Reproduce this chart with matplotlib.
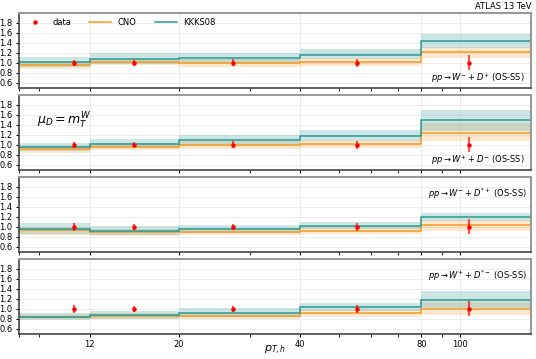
import numpy as np
import matplotlib
matplotlib.use("Agg")
import matplotlib.pyplot as plt
from matplotlib.lines import Line2D
from matplotlib.ticker import FixedLocator, FixedFormatter, LogLocator, NullFormatter

# bin edges in pT,h and mean-pT of data points
edges = [8, 12, 20, 40, 80, 150]
data_x = [11.0, 15.5, 27.3, 55.5, 105.0]

channels = [r"$pp \rightarrow W^{-} + D^{+}$ (OS-SS)",
            r"$pp \rightarrow W^{+} + D^{-}$ (OS-SS)",
            r"$pp \rightarrow W^{-} + D^{*+}$ (OS-SS)",
            r"$pp \rightarrow W^{+} + D^{*-}$ (OS-SS)"]

# data (normalised to 1) and errors
data_y = [1.0, 1.0, 1.0, 1.0, 1.0]
data_err = [[0.06, 0.06, 0.07, 0.08, 0.15],
            [0.06, 0.05, 0.07, 0.08, 0.15],
            [0.08, 0.06, 0.06, 0.08, 0.15],
            [0.08, 0.06, 0.06, 0.08, 0.15]]

# CNO central / up / down
cno = [[0.967, 1.013, 1.00, 1.02, 1.21],
       [0.913, 0.96, 1.00, 1.02, 1.247],
       [0.933, 0.893, 0.90, 0.92, 1.033],
       [0.833, 0.853, 0.867, 0.927, 1.007]]
cno_up = [[1.03, 1.08, 1.07, 1.09, 1.32],
          [0.97, 1.04, 1.07, 1.09, 1.43],
          [1.00, 0.96, 0.97, 1.00, 1.13],
          [0.89, 0.91, 0.92, 1.00, 1.13]]
cno_dn = [[0.87, 0.95, 0.92, 0.93, 1.09],
          [0.84, 0.89, 0.92, 0.93, 1.08],
          [0.83, 0.81, 0.83, 0.85, 0.92],
          [0.79, 0.80, 0.80, 0.83, 0.88]]

# KKKS08 central / up / down
kkks = [[1.02, 1.087, 1.10, 1.16, 1.44],
        [0.96, 1.02, 1.093, 1.18, 1.49],
        [0.96, 0.913, 0.96, 1.02, 1.20],
        [0.847, 0.873, 0.92, 1.033, 1.18]]
kkks_up = [[1.12, 1.19, 1.20, 1.27, 1.57],
           [1.04, 1.12, 1.20, 1.29, 1.70],
           [1.08, 1.027, 1.047, 1.107, 1.287],
           [0.92, 0.96, 1.013, 1.127, 1.353]]
kkks_dn = [[0.92, 0.98, 1.00, 1.07, 1.30],
           [0.88, 0.94, 1.00, 1.08, 1.28],
           [0.86, 0.83, 0.88, 0.95, 1.12],
           [0.78, 0.80, 0.84, 0.95, 1.02]]

orange = "#f59a23"
teal = "#2a9a94"

fig, axes = plt.subplots(4, 1, figsize=(5.36, 3.59), dpi=100, sharex=True)
fig.subplots_adjust(left=0.035, right=0.991, top=0.964, bottom=0.07, hspace=0.093)

for i, ax in enumerate(axes):
    ax.set_xscale("log")
    ax.stairs(cno_up[i], edges, baseline=cno_dn[i], fill=True, color=orange, alpha=0.22, lw=0)
    ax.stairs(kkks_up[i], edges, baseline=kkks_dn[i], fill=True, color="#4aa8a8", alpha=0.28, lw=0)
    ax.stairs(cno[i], edges, baseline=None, color=orange, lw=1.1)
    ax.stairs(kkks[i], edges, baseline=None, color=teal, lw=1.1)
    ax.errorbar(data_x, data_y, yerr=data_err[i], fmt="o", color="red", ms=2.2,
                elinewidth=1.6, ecolor=(1, 0, 0, 0.65), capsize=0, zorder=5)

    ax.set_xlim(8, 150)
    ax.set_ylim(0.5, 2.0)
    ax.set_yticks([0.6, 0.8, 1.0, 1.2, 1.4, 1.6, 1.8])
    ax.set_yticklabels(["0.6", "0.8", "1.0", "1.2", "1.4", "1.6", "1.8"])
    ax.xaxis.set_major_locator(FixedLocator([12, 20, 40, 80, 100]))
    ax.xaxis.set_major_formatter(FixedFormatter(["12", "20", "40", "80", "100"]))
    ax.xaxis.set_minor_locator(LogLocator(base=10, subs=np.arange(2, 10)))
    ax.xaxis.set_minor_formatter(NullFormatter())
    ax.tick_params(labelsize=6, length=2.5, width=0.8, pad=2)
    ax.tick_params(which="minor", length=1.8, width=0.6)
    ax.grid(True, color="#ececec", lw=0.7)
    ax.set_axisbelow(True)
    for s in ["left", "bottom"]:
        ax.spines[s].set_color("#444444")
        ax.spines[s].set_linewidth(1.2)
    for s in ["top", "right"]:
        ax.spines[s].set_color("#999999")
        ax.spines[s].set_linewidth(1.5)

    ypos = 0.13 if i < 2 else 0.77
    ax.text(0.895, ypos, channels[i], transform=ax.transAxes, ha="center", va="center", fontsize=6)

axes[0].set_title("ATLAS 13 TeV", loc="right", fontsize=6, pad=3)
handles = [Line2D([], [], ls="none", marker="o", ms=2.2, color="red"),
           Line2D([], [], color=orange, lw=1.1),
           Line2D([], [], color=teal, lw=1.1)]
axes[0].legend(handles, ["data", "CNO", "KKKS08"], loc="upper left", ncol=3,
               frameon=False, fontsize=6, handlelength=2.6, columnspacing=2.2,
               borderaxespad=0.2)
axes[1].text(0.035, 0.65, r"$\mu_D = m_T^W$", transform=axes[1].transAxes, fontsize=9, va="center")
axes[3].set_xlabel(r"$p_{T,h}$", fontsize=8)
axes[3].xaxis.set_label_coords(0.5, -0.13)

fig.savefig("out.png", dpi=100)
